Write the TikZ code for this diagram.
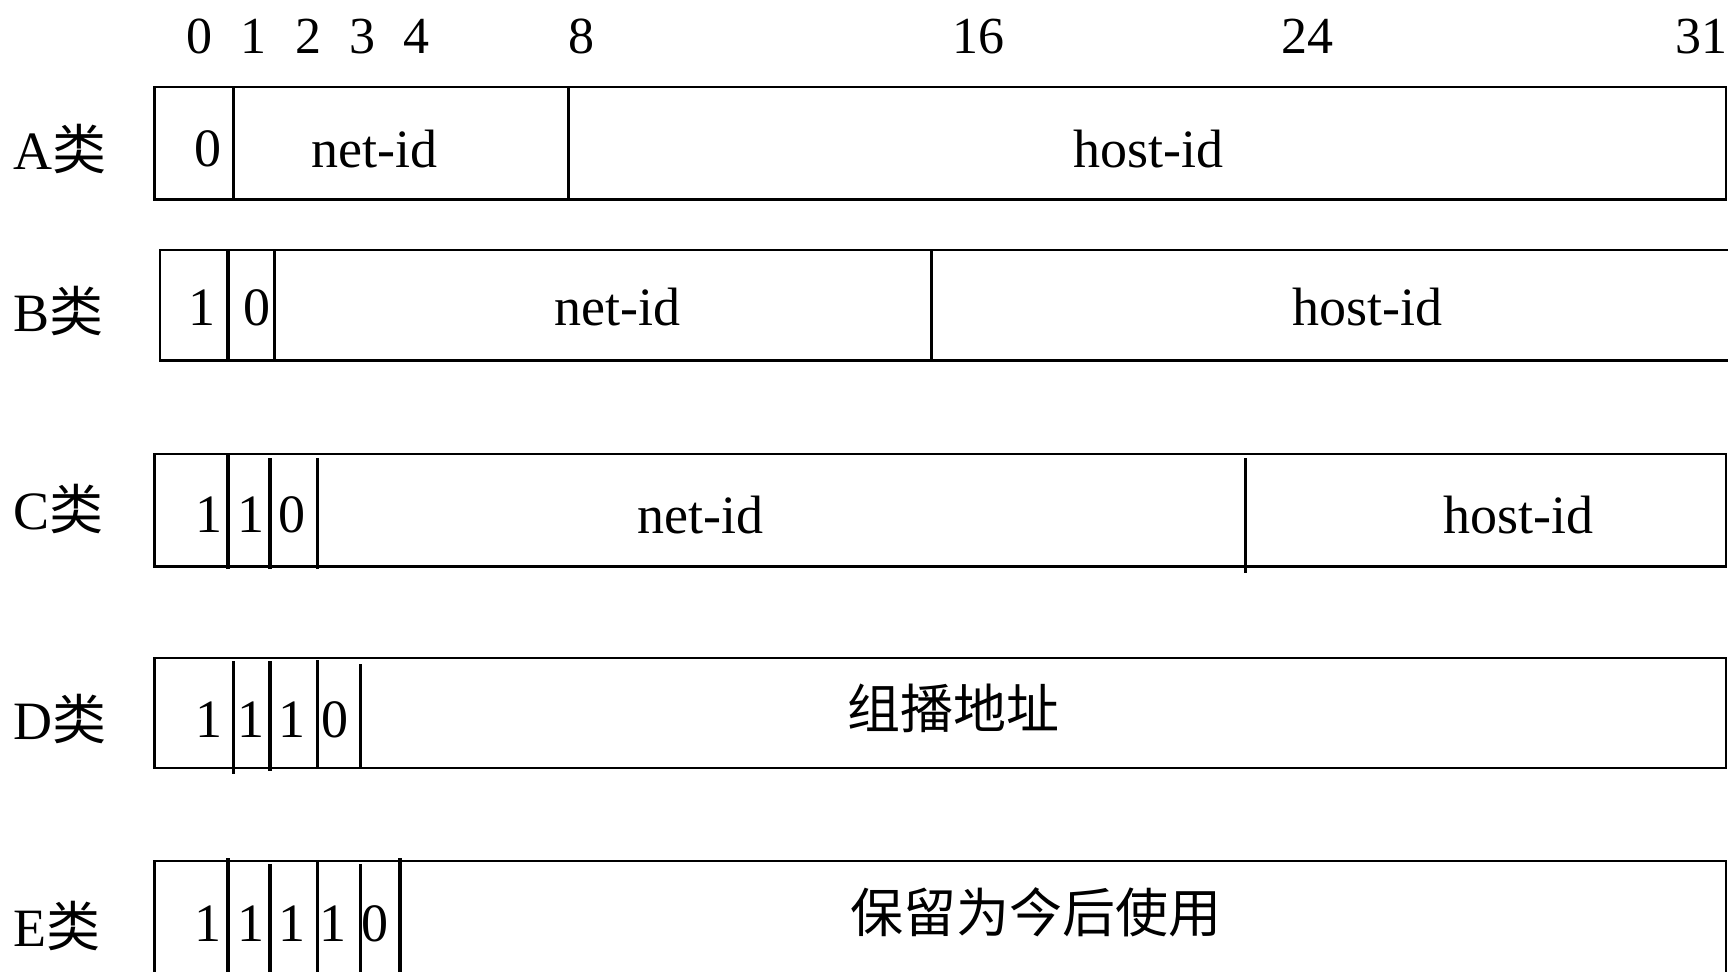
\documentclass[tikz,border=0pt]{standalone}
\usepackage{fontspec}
\setmainfont{Liberation Serif}
\newfontfamily\cjk{Noto Sans CJK SC}
\begin{document}
\begin{tikzpicture}[x=0.5pt,y=-0.5pt,
  boxline/.style={line width=1.2pt},
  divline/.style={line width=1.7pt},
  num/.style={inner sep=0pt,font=\fontsize{26}{30}\selectfont},
  txt/.style={inner sep=0pt,font=\fontsize{27}{32}\selectfont},
  cls/.style={inner sep=0pt,anchor=west,font=\fontsize{27}{32}\selectfont},
  zh/.style={inner sep=0pt,font=\cjk\fontsize{26.5}{32}\selectfont}]
\useasboundingbox (0,0) rectangle (1728,971);
\clip (0,0) rectangle (1728,971);
% bit numbers
\node[num] (n0) at (199.5,36.4) {0};
\node[num] (n1) at (253.5,36.4) {1};
\node[num] (n2) at (308.6,36.4) {2};
\node[num] (n3) at (362.6,36.4) {3};
\node[num] (n4) at (416.6,36.4) {4};
\node[num] (n8) at (581.9,36.4) {8};
\node[num] (n16) at (978.6,36.4) {16};
\node[num] (n24) at (1307,36.4) {24};
\node[num] (n31) at (1701,36.4) {31};
% class labels
\node[cls] (la) at (13,148.8) {A{\cjk 类}};
\node[cls] (lb) at (13,310.8) {B{\cjk 类}};
\node[cls] (lc) at (13,509.1) {C{\cjk 类}};
\node[cls] (ld) at (13,718.5) {D{\cjk 类}};
\node[cls] (le) at (13,925.7) {E{\cjk 类}};
% A
\draw[boxline] (154.3,87.1) rectangle (1726,199.5);
\draw[divline] (233.6,87.1) -- (233.6,199.5);
\draw[divline] (568.7,87.1) -- (568.7,199.5);
\node[txt] (a0) at (208.3,148.8) {0};
\node[txt] (anet) at (374.7,148.8) {net-id};
\node[txt] (ahost) at (1148.3,148.8) {host-id};
% B
\draw[boxline] (159.8,250.2) rectangle (1735,360.4);
\draw[divline] (228.1,250.2) -- (228.1,360.4);
\draw[divline] (274.4,250.2) -- (274.4,360.4);
\draw[divline] (931.2,250.2) -- (931.2,360.4);
\node[txt] (b1) at (201.7,307.5) {1};
\node[txt] (b2) at (256.8,307.5) {0};
\node[txt] (bnet) at (617.1,307.5) {net-id};
\node[txt] (bhost) at (1367.6,307.5) {host-id};
% C
\draw[boxline] (154.3,454) rectangle (1726,566.4);
\draw[divline] (228.1,453) -- (228.1,569);
\draw[divline] (270,458) -- (270,569);
\draw[divline] (317.4,458) -- (317.4,569);
\draw[divline] (1245.3,458) -- (1245.3,573);
\node[txt] (c1) at (209.4,514.6) {1};
\node[txt] (c2) at (251.3,514.6) {1};
\node[txt] (c3) at (292,514.6) {0};
\node[txt] (cnet) at (700.9,514.6) {net-id};
\node[txt] (chost) at (1518.6,514.6) {host-id};
% D
\draw[boxline] (154.3,657.9) rectangle (1726,768.1);
\draw[divline] (233.6,661) -- (233.6,773.6);
\draw[divline] (270,661) -- (270,771);
\draw[divline] (317.4,660) -- (317.4,768.1);
\draw[divline] (360.4,664) -- (360.4,768.1);
\node[txt] (d1) at (209.4,719.6) {1};
\node[txt] (d2) at (251.3,719.6) {1};
\node[txt] (d3) at (292,719.6) {1};
\node[txt] (d4) at (335,719.6) {0};
\node[zh] (dtxt) at (953.3,708.6) {组播地址};
% E
\draw[boxline] (154.3,860.7) rectangle (1726,1000);
\draw[divline] (228.1,858) -- (228.1,1000);
\draw[divline] (270,864) -- (270,1000);
\draw[divline] (317.4,862) -- (317.4,1000);
\draw[divline] (360.4,864) -- (360.4,1000);
\draw[divline] (400,858) -- (400,1000);
\node[txt] (e1) at (208.3,923.5) {1};
\node[txt] (e2) at (251.3,923.5) {1};
\node[txt] (e3) at (292,923.5) {1};
\node[txt] (e4) at (332.8,923.5) {1};
\node[txt] (e5) at (374.7,923.5) {0};
\node[zh] (etxt) at (1035.9,912.5) {保留为今后使用};
\end{tikzpicture}
\end{document}
